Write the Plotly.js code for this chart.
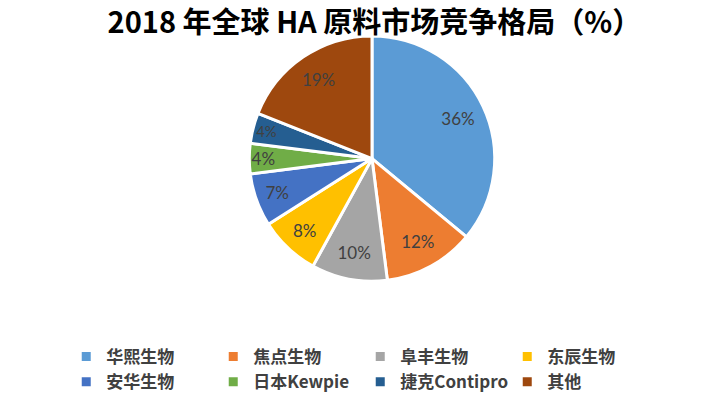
<!DOCTYPE html>
<html>
<head>
<meta charset="utf-8">
<script src="https://cdn.plot.ly/plotly-3.0.1.min.js"></script>
<style>html,body{margin:0;padding:0;background:#fff;}#chart{width:720px;height:400px;}</style>
</head>
<body>
<div id="chart"></div>
<script>
const companies = ['华熙生物', '焦点生物', '阜丰生物', '东辰生物', '安华生物', '日本Kewpie', '捷克Contipro', '其他'];
const shares = [36, 12, 10, 8, 7, 4, 4, 19];
const sliceColors = ['#5B9BD5', '#ED7D31', '#A5A5A5', '#FFC000', '#4472C4', '#70AD47', '#255E91', '#9E480E'];
const chartTitle = '2018 年全球 HA 原料市场竞争格局（%）';

const pieDomain = {x: [249/720, 495/720], y: [1 - 282/400, 1 - 36/400]};

const slices = {
  type: 'pie',
  labels: companies,
  values: shares,
  sort: false,
  direction: 'clockwise',
  rotation: 0,
  marker: {colors: sliceColors, line: {color: '#ffffff', width: 3}},
  textinfo: 'none',
  hoverinfo: 'label+percent',
  domain: pieDomain
};

// transparent ring on top, only to place the value labels further out
const labelRing = {
  type: 'pie',
  labels: companies,
  values: shares,
  sort: false,
  direction: 'clockwise',
  rotation: 0,
  hole: 0.55,
  showlegend: false,
  marker: {colors: companies.map(() => 'rgba(0,0,0,0)'), line: {width: 0}},
  texttemplate: '%{value}%',
  textposition: 'inside',
  insidetextorientation: 'horizontal',
  textfont: {family: 'Lato, "Liberation Sans", sans-serif', size: 17, color: '#404040'},
  hoverinfo: 'skip',
  domain: pieDomain
};

const layout = {
  width: 720, height: 400,
  margin: {l: 0, r: 0, t: 0, b: 0},
  paper_bgcolor: '#ffffff',
  title: {
    text: '<b>' + chartTitle + '</b>',
    font: {family: '"Noto Sans CJK SC", sans-serif', size: 29, color: '#000000'},
    x: 0.52, xanchor: 'center', y: 0.943, yanchor: 'middle'
  },
  showlegend: true,
  legend: {
    orientation: 'h',
    x: 0.092, xanchor: 'left',
    y: 0.15, yanchor: 'top',
    entrywidth: 102, entrywidthmode: 'pixels',
    font: {family: '"Noto Sans CJK SC", sans-serif', size: 17, color: '#404040', weight: 'bold'},
    itemwidth: 30,
    traceorder: 'normal'
  }
};

Plotly.newPlot('chart', [slices, labelRing], layout, {displayModeBar: false, staticPlot: true});
</script>
</body>
</html>
